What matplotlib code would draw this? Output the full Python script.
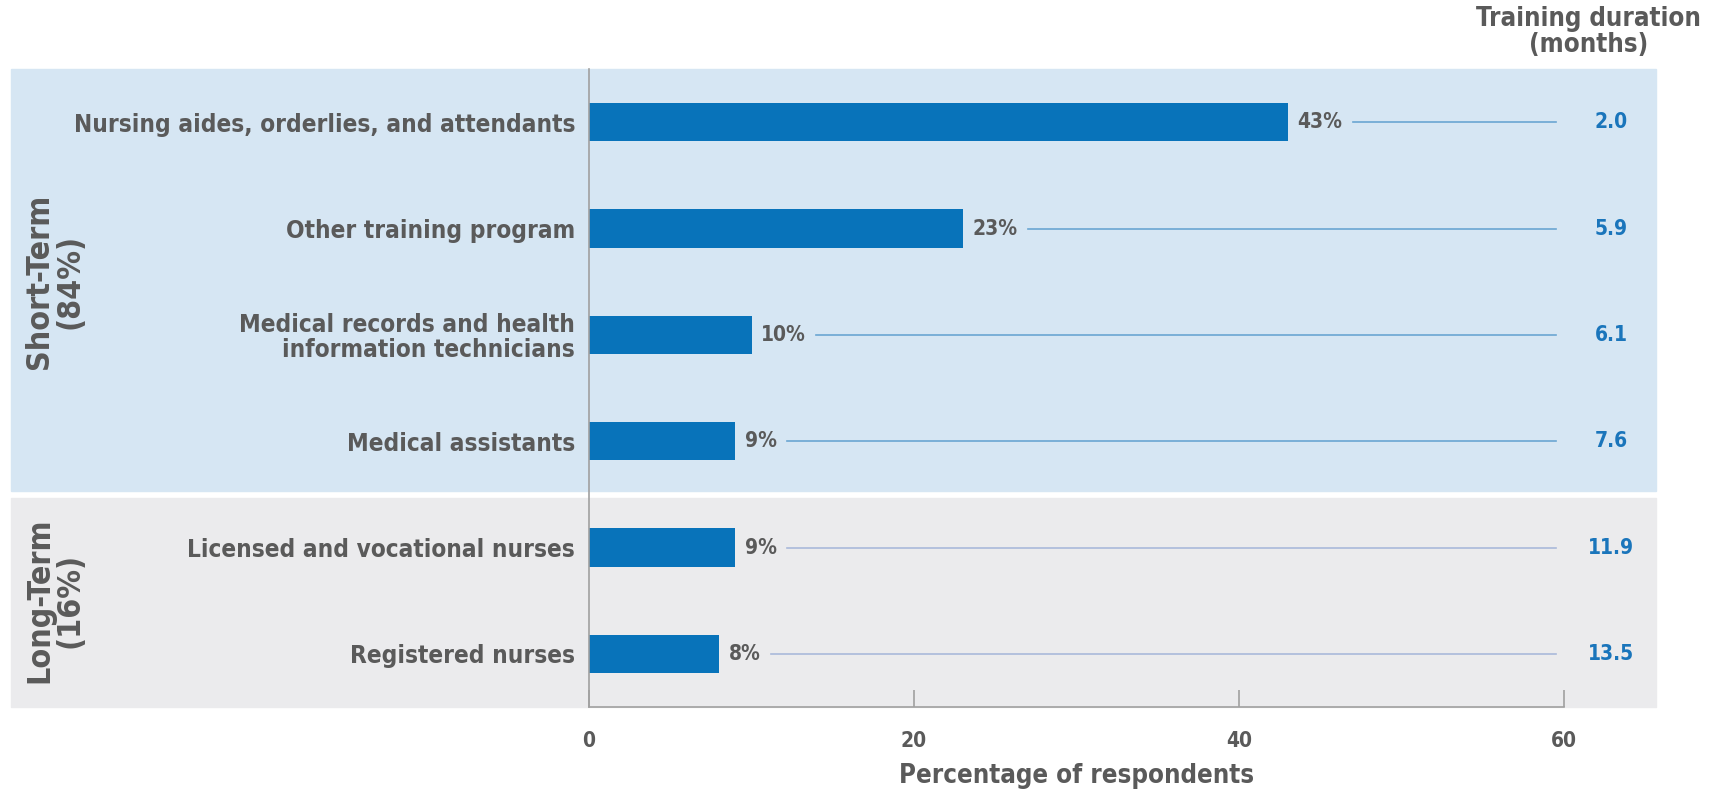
import matplotlib
matplotlib.use("Agg")
import matplotlib.pyplot as plt
from matplotlib.patches import Rectangle
from matplotlib.transforms import blended_transform_factory

plt.rcParams['font.family'] = ['DejaVu Sans']
plt.rcParams['font.stretch'] = 'condensed'
plt.rcParams['font.weight'] = 'bold'

# data
categories = ["Nursing aides, orderlies, and attendants",
              "Other training program",
              "Medical records and health\ninformation technicians",
              "Medical assistants",
              "Licensed and vocational nurses",
              "Registered nurses"]
pct = [43, 23, 10, 9, 9, 8]
duration = [2.0, 5.9, 6.1, 7.6, 11.9, 13.5]
groups = ["Short-Term\n(84%)", "Long-Term\n(16%)"]
group_size = [4, 2]

textc = '#5a5a5a'
barc = '#0873ba'
W, H = 1725, 799

fig = plt.figure(figsize=(17.25, 7.99), dpi=100)
ax = fig.add_axes([589/W, 1-707/H, (1564-589)/W, (707-69)/H])
ax.set_xlim(0, 60)
ax.set_ylim(5.5, -0.5)
ax.set_facecolor('none')

# background bands, in figure coords but drawn under the axes content
ax.add_patch(Rectangle((11/W, 1-491/H), (1656-11)/W, (491-69)/H,
                       transform=fig.transFigure, color='#d6e6f3', zorder=0,
                       clip_on=False))
ax.add_patch(Rectangle((11/W, 1-707/H), (1656-11)/W, (707-498)/H,
                       transform=fig.transFigure, color='#ebebed', zorder=0,
                       clip_on=False))

y = list(range(len(categories)))
ax.barh(y, pct, height=0.36, color=barc, zorder=3)

ax.set_yticks(y)
ax.set_yticklabels(categories, fontsize=17.5, color=textc, linespacing=1.05)
ax.tick_params(axis='y', length=0, pad=10)
ax.set_xticks([0, 20, 40, 60])
ax.tick_params(axis='x', direction='in', length=12, width=1.2, color='#a0a0a0',
               labelsize=15, labelcolor=textc, pad=17)
ax.set_xlabel("Percentage of respondents", fontsize=18.5, color=textc,
              fontweight='bold', labelpad=9)

for s in ['top', 'right']:
    ax.spines[s].set_visible(False)
for s in ['left', 'bottom']:
    ax.spines[s].set_color('#a0a0a0')
    ax.spines[s].set_linewidth(1.2)
    ax.spines[s].set_zorder(4)

fig.canvas.draw()
r = fig.canvas.get_renderer()
inv = ax.transData.inverted()
for i, (p, d) in enumerate(zip(pct, duration)):
    t = ax.text(p + 0.6, i, f"{p}%", va='center', ha='left', fontsize=15,
                color=textc)
    bb = t.get_window_extent(renderer=r)
    x0 = inv.transform((bb.x1 + 10, 0))[0]
    lc = '#6aa6d2' if i < group_size[0] else '#a9b9da'
    ax.plot([x0, 59.5], [i, i], color=lc, lw=1.2, zorder=2, clip_on=False)
    ax.text(62.9, i, f"{d:.1f}", va='center', ha='center', fontsize=15,
            color='#1a75bb', clip_on=False)

ax.text(61.5, -0.6, "Training duration\n(months)", ha='center', va='bottom',
        fontsize=18.5, color=textc, linespacing=1.0, clip_on=False)

# group labels
tr = blended_transform_factory(fig.transFigure, ax.transData)
start = 0
for g, n in zip(groups, group_size):
    mid = start + (n - 1) / 2
    ax.text(55/W, mid, g, transform=tr, rotation=90, ha='center', va='center',
            fontsize=23, color=textc, linespacing=1.0, clip_on=False)
    start += n

fig.savefig("out.png", dpi=100)
